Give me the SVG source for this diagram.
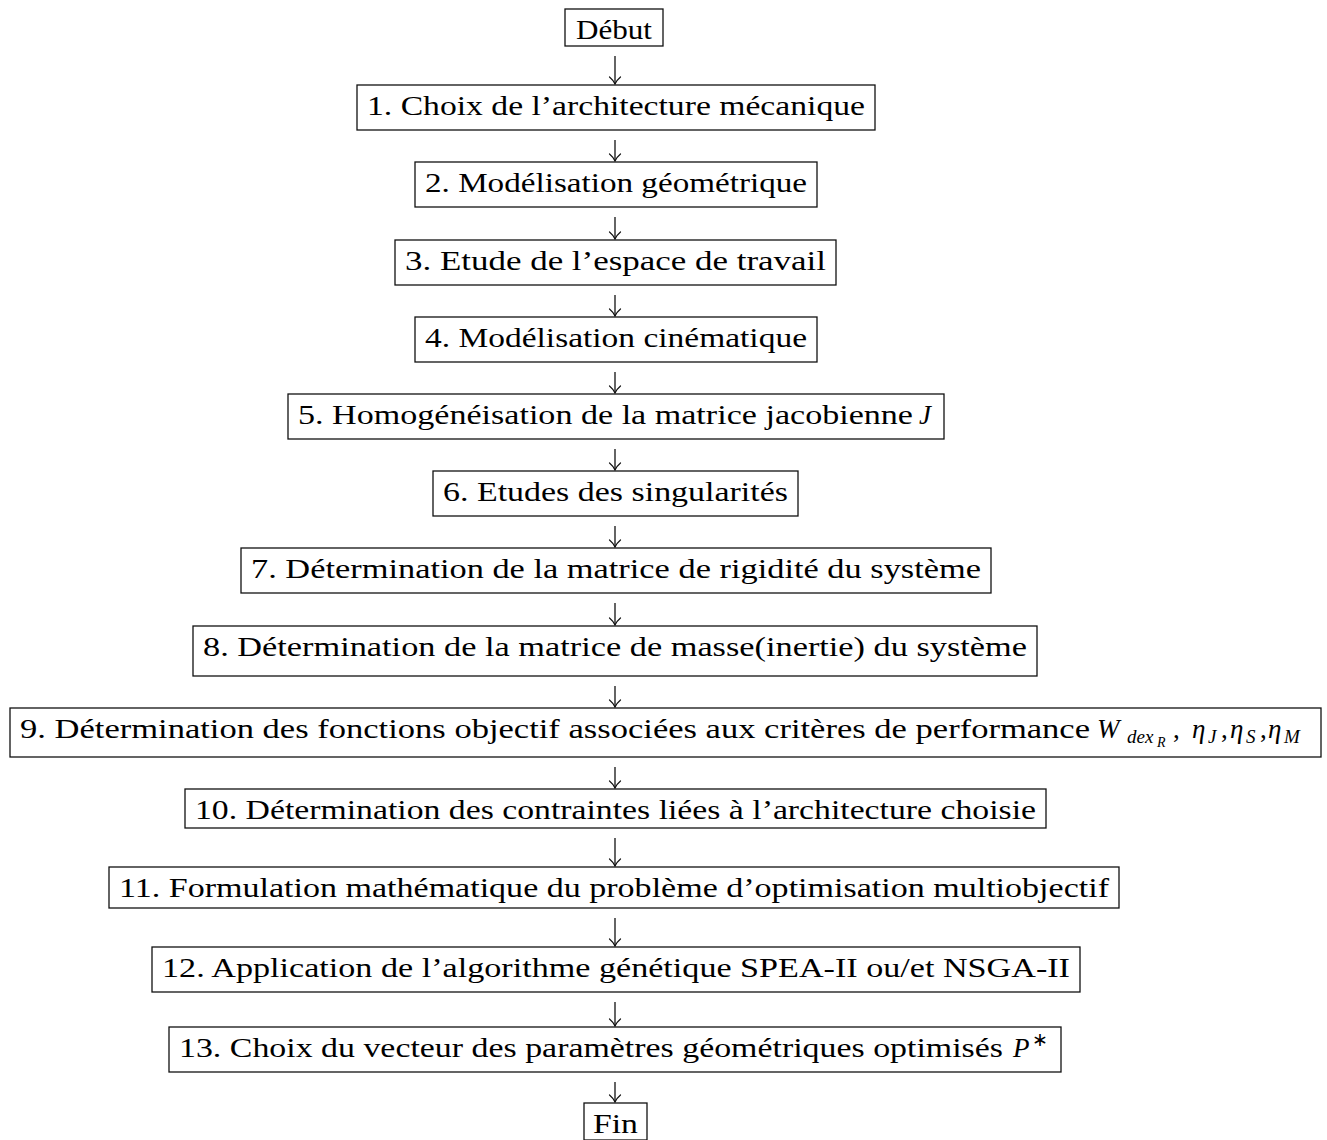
<svg xmlns="http://www.w3.org/2000/svg" width="1327" height="1140" viewBox="0 0 1327 1140">
  <style>
    .box { fill: #fff; stroke: #111; stroke-width: 1.3; }
    .lbl { font-family: "Liberation Serif", "Times New Roman", serif; font-size: 27px; fill: #000; }
    .c { text-anchor: middle; }
    .it { font-style: italic; }
    .sub { font-size: 19px; }
    .subsub { font-size: 14px; }
    .edge { stroke: #111; stroke-width: 1.3; fill: none; marker-end: url(#ah); }
  </style>
  <defs>
    <marker id="ah" markerUnits="userSpaceOnUse" markerWidth="14" markerHeight="14" refX="0" refY="0" orient="auto" style="overflow:visible">
      <path d="M-7,-5.5 C-4,-2 -1.5,-0.6 0,0 C-1.5,0.6 -4,2 -7,5.5" fill="none" stroke="#111" stroke-width="1.2" stroke-linecap="round"/>
    </marker>
  </defs>

  <!-- connectors -->
  <g id="edges">
    <line class="edge" x1="615" y1="56" x2="615" y2="84"/>
    <line class="edge" x1="615" y1="140" x2="615" y2="161"/>
    <line class="edge" x1="615" y1="217" x2="615" y2="239"/>
    <line class="edge" x1="615" y1="295" x2="615" y2="316"/>
    <line class="edge" x1="615" y1="372" x2="615" y2="393"/>
    <line class="edge" x1="615" y1="449" x2="615" y2="470"/>
    <line class="edge" x1="615" y1="526" x2="615" y2="547"/>
    <line class="edge" x1="615" y1="603" x2="615" y2="625"/>
    <line class="edge" x1="615" y1="686" x2="615" y2="707"/>
    <line class="edge" x1="615" y1="767" x2="615" y2="788"/>
    <line class="edge" x1="615" y1="838" x2="615" y2="866"/>
    <line class="edge" x1="615" y1="918" x2="615" y2="946"/>
    <line class="edge" x1="615" y1="1002" x2="615" y2="1026"/>
    <line class="edge" x1="615" y1="1082" x2="615" y2="1102"/>
  </g>

  <g id="debut">
    <rect class="box" x="565" y="9" width="98" height="37"/>
    <text class="lbl c" x="614" y="39" textLength="76" lengthAdjust="spacingAndGlyphs">Début</text>
  </g>
  <g id="n1">
    <rect class="box" x="357" y="85" width="518" height="45"/>
    <text class="lbl c" x="616" y="115" textLength="498" lengthAdjust="spacingAndGlyphs">1. Choix de l’architecture mécanique</text>
  </g>
  <g id="n2">
    <rect class="box" x="415" y="162" width="402" height="45"/>
    <text class="lbl c" x="616" y="192" textLength="382" lengthAdjust="spacingAndGlyphs">2. Modélisation géométrique</text>
  </g>
  <g id="n3">
    <rect class="box" x="395" y="240" width="441" height="45"/>
    <text class="lbl c" x="615.5" y="270" textLength="421" lengthAdjust="spacingAndGlyphs">3. Etude de l’espace de travail</text>
  </g>
  <g id="n4">
    <rect class="box" x="415" y="317" width="402" height="45"/>
    <text class="lbl c" x="616" y="347" textLength="382" lengthAdjust="spacingAndGlyphs">4. Modélisation cinématique</text>
  </g>
  <g id="n5">
    <rect class="box" x="288" y="394" width="656" height="45"/>
    <text class="lbl" x="298" y="424" textLength="615" lengthAdjust="spacingAndGlyphs">5. Homogénéisation de la matrice jacobienne</text>
    <text class="lbl it" x="919" y="424">J</text>
  </g>
  <g id="n6">
    <rect class="box" x="433" y="471" width="365" height="45"/>
    <text class="lbl c" x="615.5" y="501" textLength="345" lengthAdjust="spacingAndGlyphs">6. Etudes des singularités</text>
  </g>
  <g id="n7">
    <rect class="box" x="241" y="548" width="750" height="45"/>
    <text class="lbl c" x="616" y="578" textLength="730" lengthAdjust="spacingAndGlyphs">7. Détermination de la matrice de rigidité du système</text>
  </g>
  <g id="n8">
    <rect class="box" x="193" y="626" width="844" height="50"/>
    <text class="lbl c" x="615" y="656" textLength="824" lengthAdjust="spacingAndGlyphs">8. Détermination de la matrice de masse(inertie) du système</text>
  </g>
  <g id="n9">
    <rect class="box" x="10" y="708" width="1311" height="49"/>
    <text class="lbl" x="20" y="738" textLength="1070" lengthAdjust="spacingAndGlyphs">9. Détermination des fonctions objectif associées aux critères de performance</text>
    <text class="lbl it" x="1097" y="738">W</text>
    <text class="lbl it sub" x="1127" y="743">dex</text>
    <text class="lbl it subsub" x="1157" y="747">R</text>
    <text class="lbl" x="1173" y="738">,</text>
    <text class="lbl it" x="1192" y="738">η</text>
    <text class="lbl it sub" x="1208" y="743">J</text>
    <text class="lbl" x="1221" y="738">,</text>
    <text class="lbl it" x="1230" y="738">η</text>
    <text class="lbl it sub" x="1246" y="743">S</text>
    <text class="lbl" x="1260" y="738">,</text>
    <text class="lbl it" x="1268" y="738">η</text>
    <text class="lbl it sub" x="1284" y="743">M</text>
  </g>
  <g id="n10">
    <rect class="box" x="185" y="789" width="861" height="39"/>
    <text class="lbl c" x="615.5" y="819" textLength="841" lengthAdjust="spacingAndGlyphs">10. Détermination des contraintes liées à l’architecture choisie</text>
  </g>
  <g id="n11">
    <rect class="box" x="109" y="867" width="1010" height="41"/>
    <text class="lbl c" x="614" y="897" textLength="990" lengthAdjust="spacingAndGlyphs">11. Formulation mathématique du problème d’optimisation multiobjectif</text>
  </g>
  <g id="n12">
    <rect class="box" x="152" y="947" width="928" height="45"/>
    <text class="lbl c" x="616" y="977" textLength="908" lengthAdjust="spacingAndGlyphs">12. Application de l’algorithme génétique SPEA-II ou/et NSGA-II</text>
  </g>
  <g id="n13">
    <rect class="box" x="169" y="1027" width="892" height="45"/>
    <text class="lbl" x="179" y="1057" textLength="824" lengthAdjust="spacingAndGlyphs">13. Choix du vecteur des paramètres géométriques optimisés</text>
    <text class="lbl it" x="1013" y="1057">P</text>
    <text class="lbl sub" x="1032" y="1046">∗</text>
  </g>
  <g id="fin">
    <rect class="box" x="584" y="1103" width="63" height="37"/>
    <text class="lbl c" x="615.5" y="1133" textLength="45" lengthAdjust="spacingAndGlyphs">Fin</text>
  </g>
</svg>
